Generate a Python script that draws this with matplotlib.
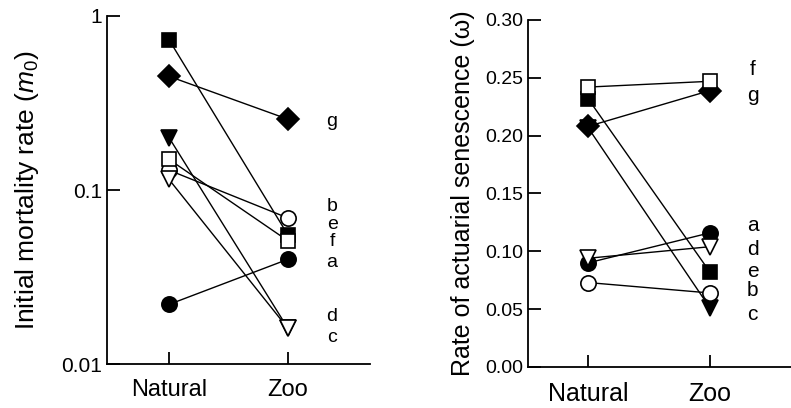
import numpy as np
import matplotlib
matplotlib.use("Agg")
import matplotlib.pyplot as plt
from matplotlib.ticker import NullLocator

plt.rcParams['font.family'] = ['Liberation Sans', 'DejaVu Sans']
plt.rcParams['mathtext.fontset'] = 'custom'
plt.rcParams['mathtext.rm'] = 'Liberation Sans'
plt.rcParams['mathtext.it'] = 'Liberation Sans:italic'

# species a-g
species = ['a', 'b', 'c', 'd', 'e', 'f', 'g']
groups = ['Natural', 'Zoo']

m0_natural = [0.022, 0.13, 0.20, 0.115, 0.73, 0.15, 0.45]
m0_zoo = [0.040, 0.069, 0.016, 0.016, 0.055, 0.051, 0.255]

omega_natural = [0.090, 0.073, 0.207, 0.094, 0.232, 0.242, 0.208]
omega_zoo = [0.116, 0.064, 0.051, 0.104, 0.082, 0.247, 0.239]

# letter labels beside the Zoo column (y positions)
m0_label_y = {'g': 0.247, 'b': 0.0800, 'e': 0.0635, 'f': 0.0505,
              'a': 0.0385, 'd': 0.0188, 'c': 0.0142}
omega_label_y = {'f': 0.257, 'g': 0.235, 'a': 0.122, 'd': 0.102,
                 'e': 0.0824, 'b': 0.0659, 'c': 0.0451}

# marker styles per species: (marker, filled, size)
styles = {
    'a': ('o', True, 11),
    'b': ('o', False, 11),
    'c': ('v', True, 11),
    'd': ('v', False, 11),
    'e': ('s', True, 10),
    'f': ('s', False, 10),
    'g': ('D', True, 11),
}
draw_order = ['a', 'c', 'e', 'g', 'b', 'd', 'f']


def draw_panel(ax, nat, zoo, label_y, label_x, label_size):
    x = np.arange(len(groups))
    for i, sp in enumerate(species):
        ax.plot(x, [nat[i], zoo[i]], color='black', lw=1.0, zorder=2)
    for k, sp in enumerate(draw_order):
        i = species.index(sp)
        mk, filled, ms = styles[sp]
        ax.plot(x, [nat[i], zoo[i]], ls='none', marker=mk, ms=ms,
                mfc='black' if filled else 'white', mec='black', mew=1.2,
                zorder=3 + k)
    for sp, yv in label_y.items():
        ax.text(label_x, yv, sp, ha='center', va='center', fontsize=label_size)
    ax.spines['top'].set_visible(False)
    ax.spines['right'].set_visible(False)
    ax.spines['left'].set_linewidth(1.3)
    ax.spines['bottom'].set_linewidth(1.3)
    ax.set_xticks(x)
    ax.tick_params(axis='both', direction='in', length=9, width=1.3)


fig = plt.figure(figsize=(7.91, 4.08), dpi=100)

ax1 = fig.add_axes([0.1353, 0.1078, 0.3325, 0.853])
draw_panel(ax1, m0_natural, m0_zoo, m0_label_y, 1.37, 14)
ax1.set_yscale('log')
ax1.set_ylim(0.01, 1)
ax1.set_xlim(-0.521, 1.689)
ax1.set_yticks([0.01, 0.1, 1])
ax1.set_yticklabels(['0.01', '0.1', '1'], fontsize=15)
ax1.yaxis.set_minor_locator(NullLocator())
ax1.set_xticklabels(groups, fontsize=17)
ax1.tick_params(axis='x', pad=11)
ax1.set_ylabel('Initial mortality rate ($m_0$)', fontsize=19)
ax1.yaxis.set_label_coords(-0.25, 0.5)

ax2 = fig.add_axes([0.6675, 0.1005, 0.3325, 0.8505])
draw_panel(ax2, omega_natural, omega_zoo, omega_label_y, 1.35, 15)
ax2.set_ylim(0, 0.30)
ax2.set_xlim(-0.492, 1.664)
ax2.set_yticks(np.arange(0, 0.31, 0.05))
ax2.set_yticklabels(['%.2f' % v for v in np.arange(0, 0.31, 0.05)], fontsize=14)
ax2.set_xticklabels(groups, fontsize=18)
ax2.tick_params(axis='x', pad=11)
ax2.set_ylabel('Rate of actuarial senescence (ω)', fontsize=18)
ax2.yaxis.set_label_coords(-0.20, 0.5)

fig.savefig('out.png', dpi=100)
